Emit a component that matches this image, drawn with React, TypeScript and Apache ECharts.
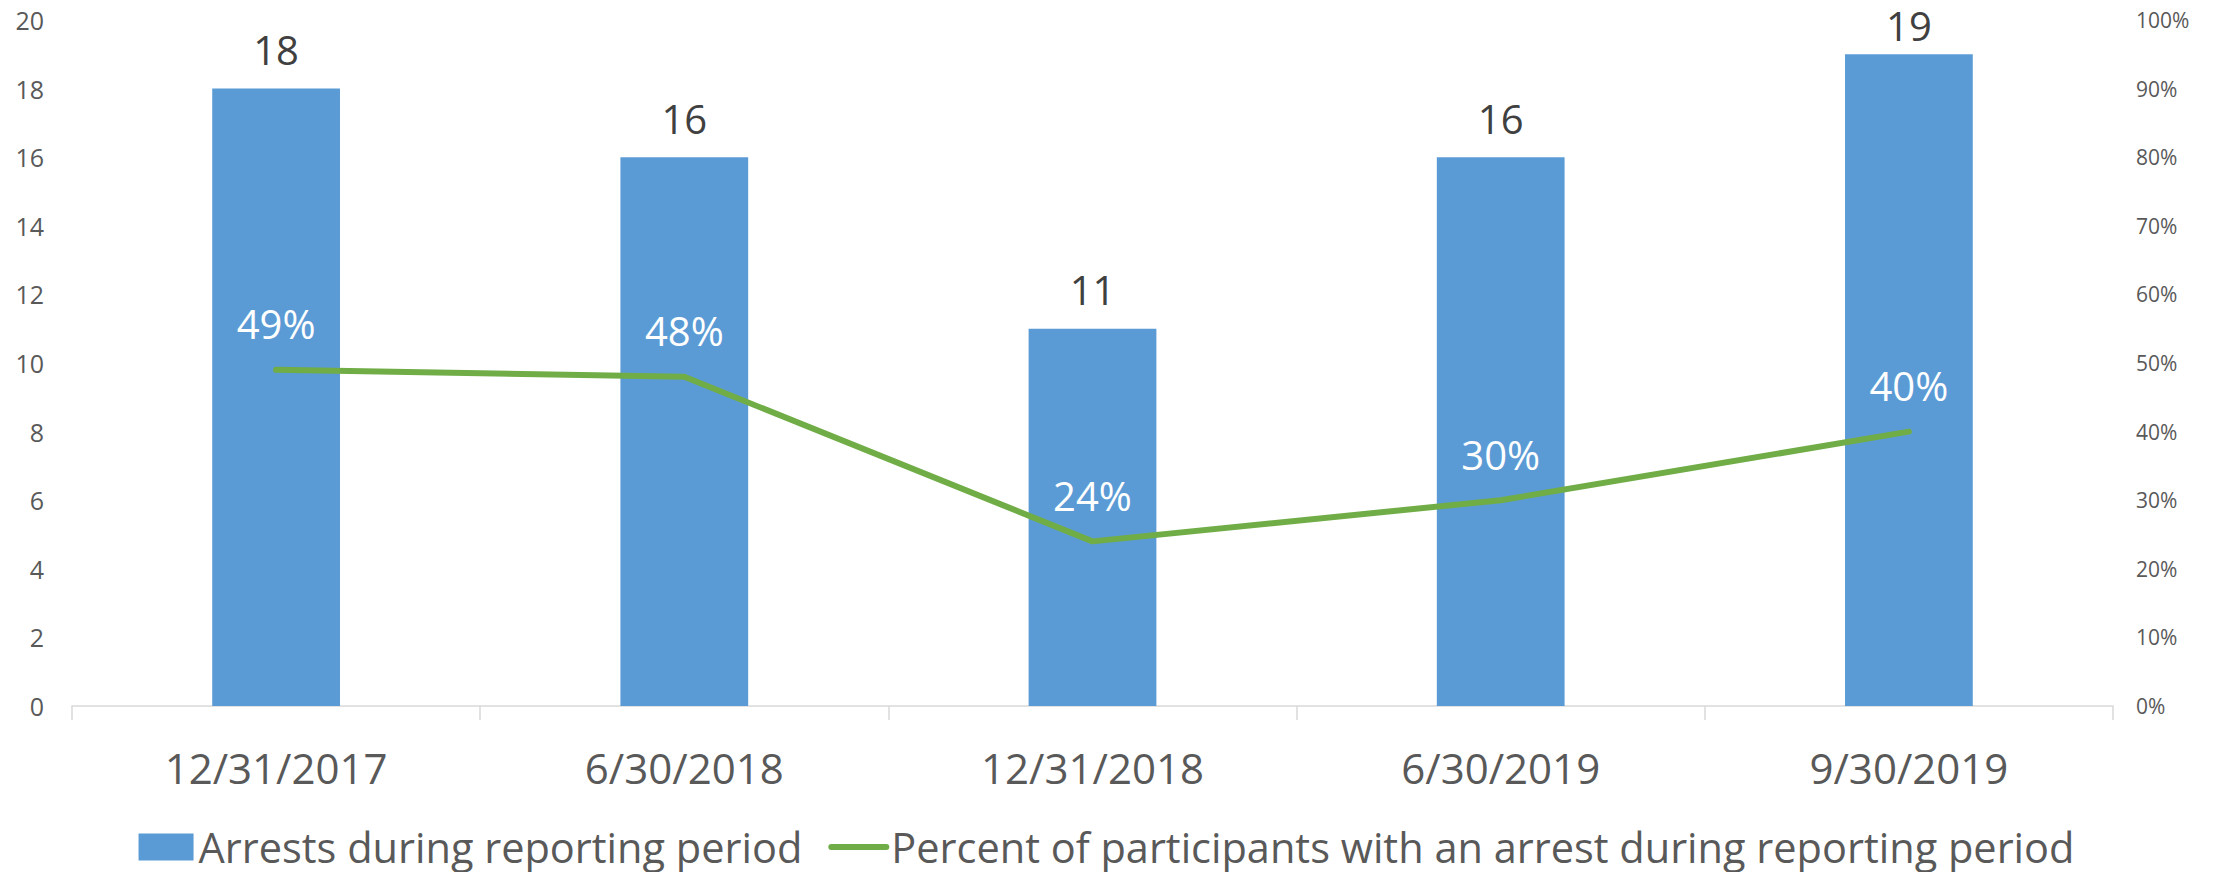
import React, { useEffect, useRef } from "react";
import * as echarts from "echarts";

const categories = ["12/31/2017", "6/30/2018", "12/31/2018", "6/30/2019", "9/30/2019"];
const arrests = [18, 16, 11, 16, 19];
const percentWithArrest = [49, 48, 24, 30, 40];
const barName = "Arrests during reporting period";
const lineName = "Percent of participants with an arrest during reporting period";

const FONT = "'Open Sans', sans-serif";

export default function App() {
  const ref = useRef<HTMLDivElement>(null);
  useEffect(() => {
    if (!ref.current) return;
    const chart = echarts.init(ref.current, undefined, { renderer: "svg" });
    const leftMax = 20;
    chart.setOption({
      animation: false,
      textStyle: { fontFamily: FONT },
      grid: { left: 72, right: 100, top: 20, bottom: 166, containLabel: false },
      legend: {
        left: "center",
        top: 826,
        padding: 0,
        itemWidth: 55,
        itemHeight: 27,
        itemGap: 26,
        textStyle: { fontSize: 41.5, lineHeight: 41, color: "#595959", fontFamily: FONT },
        data: [
          { name: barName, icon: "rect" },
          {
            name: lineName,
            itemStyle: { color: "rgba(0,0,0,0)", opacity: 0, borderWidth: 0 },
            lineStyle: { width: 6, cap: "round", color: "#70AD47" },
          },
        ],
      },
      xAxis: {
        type: "category",
        data: categories,
        axisLine: { show: true, lineStyle: { color: "#D9D9D9", width: 1.5 } },
        axisTick: { show: true, alignWithLabel: false, length: 14, lineStyle: { color: "#D9D9D9", width: 1.5 } },
        axisLabel: { fontSize: 42, lineHeight: 42, color: "#595959", margin: 40, fontFamily: FONT },
        splitLine: { show: false },
      },
      yAxis: [
        {
          type: "value",
          min: 0,
          max: leftMax,
          interval: 2,
          axisLine: { show: false },
          axisTick: { show: false },
          splitLine: { show: false },
          axisLabel: { fontSize: 25, color: "#595959", margin: 28, fontFamily: FONT },
        },
        {
          type: "value",
          min: 0,
          max: 100,
          interval: 10,
          position: "right",
          axisLine: { show: false },
          axisTick: { show: false },
          splitLine: { show: false },
          axisLabel: { fontSize: 21, color: "#595959", margin: 23, formatter: "{value}%", fontFamily: FONT },
        },
      ],
      series: [
        {
          name: barName,
          type: "bar",
          data: arrests.map((v) => ({
            value: v,
            // labels near the top edge are pushed down to stay inside the chart
            label: { distance: v > leftMax - 2 ? 9 : 19 },
          })),
          barWidth: "31.3%",
          itemStyle: { color: "#5B9BD5" },
          label: {
            show: true,
            position: "top",
            distance: 19,
            fontSize: 40,
            lineHeight: 40,
            color: "#404040",
            fontFamily: FONT,
          },
        },
        {
          name: lineName,
          type: "line",
          yAxisIndex: 1,
          data: percentWithArrest,
          symbol: "circle",
          symbolSize: 0,
          showSymbol: true,
          lineStyle: { color: "#70AD47", width: 6, cap: "round", join: "round" },
          itemStyle: { color: "#70AD47" },
          label: {
            show: true,
            position: "top",
            distance: 26,
            fontSize: 40,
            lineHeight: 40,
            color: "#FFFFFF",
            formatter: "{c}%",
            fontFamily: FONT,
          },
          z: 3,
        },
      ],
    });
    return () => chart.dispose();
  }, []);
  return (
    <div
      ref={ref}
      style={{ position: "fixed", left: 0, top: 0, width: 2213, height: 872, background: "#fff" }}
    />
  );
}
